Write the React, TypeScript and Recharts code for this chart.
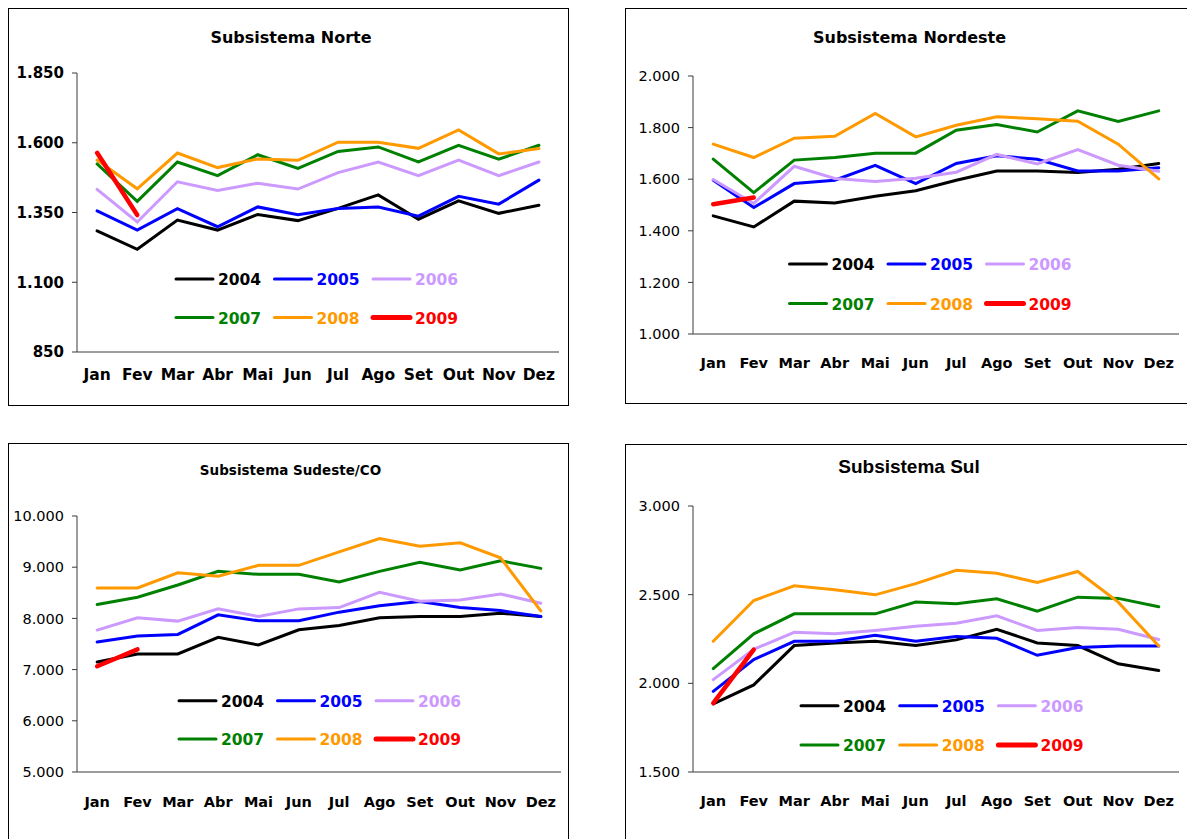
import { LineChart, Line, XAxis, YAxis } from "recharts";

const months = ["Jan", "Fev", "Mar", "Abr", "Mai", "Jun", "Jul", "Ago", "Set", "Out", "Nov", "Dez"];
const years = ["2004", "2005", "2006", "2007", "2008", "2009"];
const colors = ["#000000", "#0000FF", "#CC99FF", "#008000", "#FF9900", "#FF0000"];
const lineWidths = [3, 3, 3, 3, 3, 4.5];

// Subsistema Norte
const norte2004 = [1284, 1218, 1323, 1287, 1343, 1321, 1365, 1413, 1326, 1392, 1347, 1376];
const norte2005 = [1356, 1287, 1364, 1299, 1370, 1342, 1364, 1370, 1337, 1408, 1380, 1466];
const norte2006 = [1433, 1316, 1460, 1429, 1455, 1434, 1493, 1531, 1482, 1538, 1482, 1531];
const norte2007 = [1524, 1390, 1531, 1482, 1557, 1508, 1569, 1585, 1531, 1591, 1541, 1591];
const norte2008 = [1538, 1435, 1563, 1511, 1542, 1537, 1602, 1602, 1580, 1646, 1560, 1579];
const norte2009 = [1564, 1341];
const norteTicks = [850, 1100, 1350, 1600, 1850];

// Subsistema Nordeste
const nordeste2004 = [1458, 1415, 1515, 1508, 1534, 1555, 1596, 1632, 1632, 1626, 1639, 1661];
const nordeste2005 = [1596, 1490, 1583, 1596, 1654, 1583, 1661, 1691, 1677, 1632, 1632, 1644];
const nordeste2006 = [1599, 1506, 1650, 1603, 1591, 1604, 1627, 1696, 1659, 1715, 1654, 1631];
const nordeste2007 = [1678, 1548, 1674, 1684, 1701, 1701, 1790, 1812, 1783, 1865, 1824, 1865];
const nordeste2008 = [1736, 1684, 1759, 1766, 1855, 1764, 1809, 1842, 1834, 1825, 1736, 1601];
const nordeste2009 = [1503, 1529];
const nordesteTicks = [1000, 1200, 1400, 1600, 1800, 2000];

// Subsistema Sudeste/CO
const sudeste2004 = [7150, 7306, 7306, 7629, 7480, 7778, 7862, 8011, 8037, 8037, 8102, 8037];
const sudeste2005 = [7539, 7656, 7687, 8070, 7953, 7953, 8122, 8245, 8328, 8212, 8153, 8037];
const sudeste2006 = [7772, 8011, 7947, 8186, 8037, 8186, 8212, 8511, 8336, 8361, 8478, 8297];
const sudeste2007 = [8270, 8414, 8653, 8919, 8860, 8860, 8711, 8919, 9094, 8944, 9125, 8977];
const sudeste2008 = [8594, 8594, 8892, 8822, 9036, 9036, 9300, 9560, 9411, 9476, 9184, 8147];
const sudeste2009 = [7065, 7395];
const sudesteTicks = [5000, 6000, 7000, 8000, 9000, 10000];

// Subsistema Sul
const sul2004 = [1884, 1991, 2213, 2228, 2237, 2213, 2245, 2305, 2228, 2213, 2110, 2072];
const sul2005 = [1955, 2134, 2237, 2237, 2271, 2237, 2264, 2254, 2158, 2202, 2211, 2211];
const sul2006 = [2021, 2192, 2288, 2279, 2298, 2322, 2339, 2381, 2298, 2315, 2305, 2247];
const sul2007 = [2083, 2279, 2392, 2392, 2392, 2458, 2449, 2477, 2407, 2486, 2479, 2432];
const sul2008 = [2237, 2467, 2550, 2528, 2499, 2562, 2637, 2621, 2569, 2631, 2458, 2211];
const sul2009 = [1889, 2190];
const sulTicks = [1500, 2000, 2500, 3000];

const axisColor = "#3a3a3a";
const tahoma = "'DejaVu Sans', Verdana, sans-serif";
const arial = "'Liberation Sans', Arial, sans-serif";

// tick marks sit on the category borders, labels in the middle (excel style)
const edgeTicks = months.map((_, i) => i).concat(months.length);
const midTicks = months.map((_, i) => i + 0.5);

const fmt = (v: number) => String(v).replace(/\B(?=(\d{3})+(?!\d))/g, ".");

function buildRows(series: number[][]) {
  return months.map((m, i) => {
    const row: any = { pos: i + 0.5, month: m };
    series.forEach((s, k) => {
      if (i < s.length) row["y" + years[k]] = s[i];
    });
    return row;
  });
}

const panels = [
  {
    title: "Subsistema Norte",
    box: { left: 8, top: 8, width: 561, height: 398 },
    margin: { top: 64, right: 9, bottom: 22, left: 8 },
    labelGap: 16,
    series: [norte2004, norte2005, norte2006, norte2007, norte2008, norte2009],
    ticks: norteTicks,
    titleFont: { family: tahoma, size: 16, weight: 700, x: 282, y: 34 },
    yFont: { size: 15, weight: 700 },
    xFont: { size: 15.5, weight: 700 },
    legend: { x: 167, dx: 98.5, rows: [270, 308.5] },
  },
  {
    title: "Subsistema Nordeste",
    box: { left: 625, top: 8, width: 600, height: 396 },
    margin: { top: 67, right: 45, bottom: 38, left: 7 },
    labelGap: 23,
    series: [nordeste2004, nordeste2005, nordeste2006, nordeste2007, nordeste2008, nordeste2009],
    ticks: nordesteTicks,
    titleFont: { family: tahoma, size: 16, weight: 700, x: 283.5, y: 34 },
    yFont: { size: 14.5, weight: 400 },
    xFont: { size: 14.5, weight: 700 },
    legend: { x: 163.5, dx: 98.5, rows: [255, 294.5] },
  },
  {
    title: "Subsistema Sudeste/CO",
    box: { left: 8, top: 443, width: 561, height: 420 },
    margin: { top: 72, right: 7, bottom: 59, left: 8 },
    labelGap: 24,
    series: [sudeste2004, sudeste2005, sudeste2006, sudeste2007, sudeste2008, sudeste2009],
    ticks: sudesteTicks,
    titleFont: { family: tahoma, size: 13.5, weight: 700, x: 281.5, y: 31 },
    yFont: { size: 14.5, weight: 400 },
    xFont: { size: 14.5, weight: 700 },
    legend: { x: 170, dx: 98.5, rows: [256.7, 295] },
  },
  {
    title: "Subsistema Sul",
    box: { left: 625, top: 444, width: 600, height: 420 },
    margin: { top: 61, right: 45, bottom: 60, left: 7 },
    labelGap: 23,
    series: [sul2004, sul2005, sul2006, sul2007, sul2008, sul2009],
    ticks: sulTicks,
    titleFont: { family: arial, size: 19, weight: 700, x: 283, y: 28.3 },
    yFont: { size: 14.5, weight: 400 },
    xFont: { size: 14.5, weight: 700 },
    legend: { x: 175, dx: 98.7, rows: [260.7, 300] },
  },
];

function Panel({ cfg }: { cfg: (typeof panels)[number] }) {
  const innerW = cfg.box.width - 2;
  const innerH = cfg.box.height - 2;
  const rows = buildRows(cfg.series);
  const t = cfg.titleFont;

  return (
    <div
      style={{
        position: "absolute",
        left: cfg.box.left,
        top: cfg.box.top,
        width: cfg.box.width,
        height: cfg.box.height,
        border: "1px solid #000",
        boxSizing: "border-box",
        background: "#fff",
      }}
    >
      <div style={{ position: "absolute", left: 0, top: 0 }}>
        <LineChart width={innerW} height={innerH} data={rows} margin={cfg.margin}>
          <XAxis
            xAxisId="edge"
            type="number"
            dataKey="pos"
            domain={[0, months.length]}
            ticks={edgeTicks}
            interval={0}
            tick={false}
            tickSize={5}
            height={1}
            stroke={axisColor}
          />
          <XAxis
            xAxisId="label"
            type="number"
            dataKey="pos"
            domain={[0, months.length]}
            ticks={midTicks}
            interval={0}
            axisLine={false}
            tickLine={false}
            tickSize={0}
            tickMargin={cfg.labelGap}
            height={30}
            tickFormatter={(v: number) => months[Math.floor(v)]}
            tick={{ fontSize: cfg.xFont.size, fontWeight: cfg.xFont.weight, fill: "#000", fontFamily: tahoma }}
          />
          <YAxis
            type="number"
            domain={[cfg.ticks[0], cfg.ticks[cfg.ticks.length - 1]]}
            ticks={cfg.ticks}
            interval={0}
            width={60}
            tickSize={5}
            tickMargin={8}
            stroke={axisColor}
            tickFormatter={fmt}
            tick={{ fontSize: cfg.yFont.size, fontWeight: cfg.yFont.weight, fill: "#000", fontFamily: tahoma }}
          />
          {years.map((y, k) => (
            <Line
              key={y}
              xAxisId="edge"
              type="linear"
              dataKey={"y" + y}
              stroke={colors[k]}
              strokeWidth={lineWidths[k]}
              strokeLinecap="round"
              dot={false}
              activeDot={false}
              isAnimationActive={false}
            />
          ))}
        </LineChart>
      </div>
      <svg
        width={innerW}
        height={innerH}
        style={{ position: "absolute", left: 0, top: 0, pointerEvents: "none" }}
      >
        <text
          x={t.x}
          y={t.y}
          textAnchor="middle"
          fontFamily={t.family}
          fontSize={t.size}
          fontWeight={t.weight}
          fill="#000"
        >
          {cfg.title}
        </text>
        {years.map((y, k) => {
          const col = k % 3;
          const row = Math.floor(k / 3);
          const x0 = cfg.legend.x + col * cfg.legend.dx;
          const ly = cfg.legend.rows[row];
          return (
            <g key={y}>
              <line
                x1={x0}
                x2={x0 + 37}
                y1={ly}
                y2={ly}
                stroke={colors[k]}
                strokeWidth={lineWidths[k] + (k === 5 ? 0.5 : 0)}
                strokeLinecap="round"
              />
              <text
                x={x0 + 42}
                y={ly + 6}
                fontFamily={tahoma}
                fontSize={15.5}
                fontWeight={700}
                fill={colors[k]}
              >
                {y}
              </text>
            </g>
          );
        })}
      </svg>
    </div>
  );
}

export default function App() {
  return (
    <div
      style={{
        position: "absolute",
        left: 0,
        top: 0,
        width: 1187,
        height: 839,
        background: "#fff",
        overflow: "hidden",
      }}
    >
      {panels.map((p) => (
        <Panel key={p.title} cfg={p} />
      ))}
    </div>
  );
}
